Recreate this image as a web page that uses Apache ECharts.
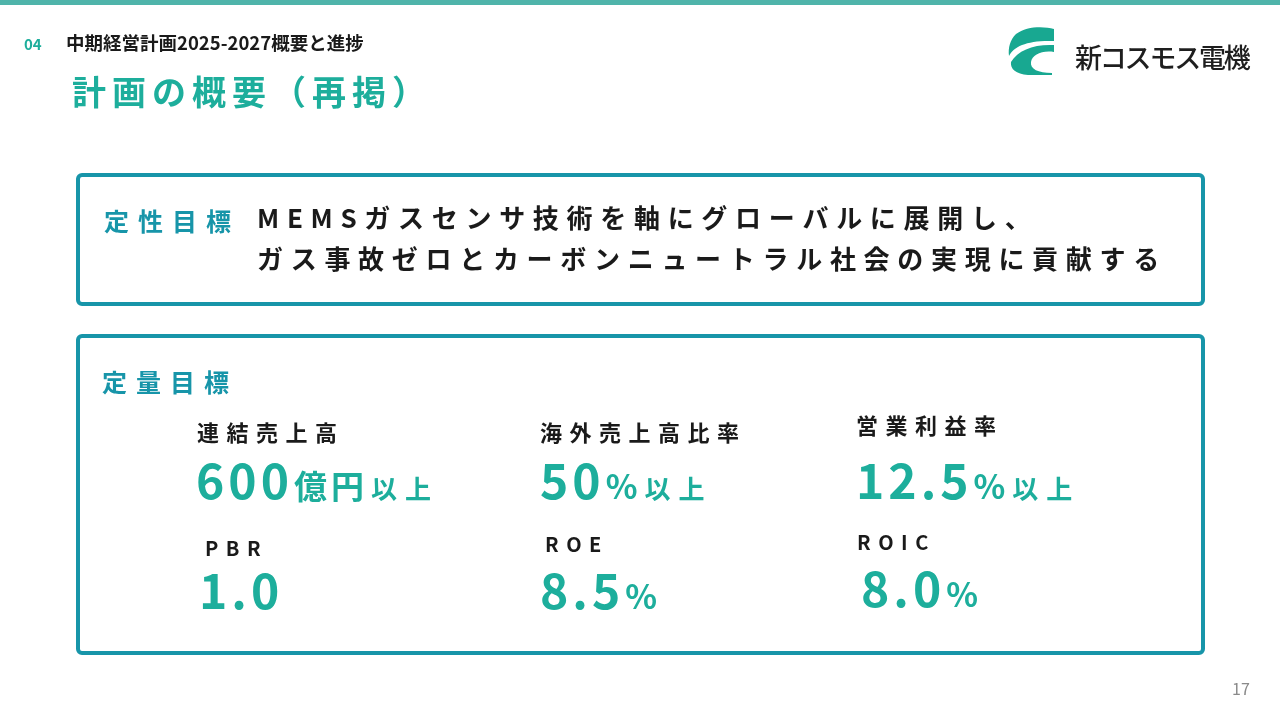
<!DOCTYPE html>
<html>
<head>
<meta charset="utf-8">
<script src="https://cdn.jsdelivr.net/npm/echarts@6/dist/echarts.min.js"></script>
<style>
  html, body { margin: 0; padding: 0; background: #fff; }
  #slide { width: 1280px; height: 720px; }
</style>
</head>
<body>
<div id="slide"></div>
<script>
// slide texts
var sectionNo = '04';
var sectionTitle = '中期経営計画2025-2027概要と進捗';
var pageTitle = '計画の概要（再掲）';
var companyName = '新コスモス電機';
var pageNo = '17';

var qualLabel = '定性目標';
var qualLines = ['MEMSガスセンサ技術を軸にグローバルに展開し、',
                 'ガス事故ゼロとカーボンニュートラル社会の実現に貢献する'];

var quantLabel = '定量目標';
var kpiNames   = ['連結売上高', '海外売上高比率', '営業利益率', 'PBR', 'ROE', 'ROIC'];
var kpiNumbers = ['600', '50', '12.5', '1.0', '8.5', '8.0'];
var kpiUnits   = ['億円', '%', '%', '', '%', '%'];
var kpiSuffix  = ['以上', '以上', '以上', '', '', ''];

var FONT = '"Noto Sans CJK JP", "Noto Sans", sans-serif';
var TEAL = '#1dae9c';
var BLUE = '#1795a9';
var INK = '#1a1a1a';

var cvs = document.createElement('canvas');
var ctx = cvs.getContext('2d');
function measure(t, size, weight) {
	ctx.font = weight + ' ' + size + 'px ' + FONT;
	return ctx.measureText(t).width;
}

// draws text one glyph at a time so letter spacing can be applied
// y is the alphabetic baseline
function spaced(els, text, x, y, size, weight, color, gap) {
	var cx = x;
	var chars = Array.from(text);
	chars.forEach(function(ch){
		els.push({
			type: 'text', x: cx, y: y - 0.38 * size,
			style: {text: ch, fontSize: size, fontWeight: weight, fontFamily: FONT,
			        fill: color, textVerticalAlign: 'middle'}
		});
		cx += measure(ch, size, weight) + gap;
	});
	return cx;
}

var logoSvg = '<svg xmlns="http://www.w3.org/2000/svg" width="48" height="50" viewBox="0 0 48 50">' +
	'<path fill="#18a891" d="M48,3 C38,0 20,0 10,8 C4,14 2,22 3,30 C8,20 22,14 48,15 Z"/>' +
	'<path fill="#18a891" d="M5,36 C12,24 28,18 48,19 L48,26 C36,24 26,29 25,36 C24,43 32,47 46,47 L46,49 L22,49 C10,48 4,43 5,36 Z"/>' +
	'</svg>';

function build() {
	var els = [];

	// top stripe
	els.push({type: 'rect', shape: {x: 0, y: 0, width: 1280, height: 5}, style: {fill: '#4fb4aa'}});

	// header
	spaced(els, sectionNo, 24, 50, 15, 'bold', TEAL, 0);
	spaced(els, sectionTitle, 66, 50, 18.5, 'bold', INK, 0);
	spaced(els, pageTitle, 72, 105, 34, 'bold', TEAL, 6);

	// logo
	els.push({
		type: 'image', x: 1006, y: 26,
		style: {image: 'data:image/svg+xml;charset=utf-8,' + encodeURIComponent(logoSvg), width: 48, height: 50}
	});
	spaced(els, companyName, 1075, 68, 27, 500, '#1e1e1e', -2.2);

	// boxes
	els.push({type: 'rect', shape: {x: 78, y: 175, width: 1125, height: 129, r: 4},
	          style: {fill: 'none', stroke: BLUE, lineWidth: 4}});
	els.push({type: 'rect', shape: {x: 78, y: 336, width: 1125, height: 317, r: 4},
	          style: {fill: 'none', stroke: BLUE, lineWidth: 4}});

	// qualitative target
	spaced(els, qualLabel, 104, 231, 25, 'bold', BLUE, 9);
	spaced(els, qualLines[0], 257, 228, 26, 'bold', INK, 7.7);
	spaced(els, qualLines[1], 257, 269, 26, 'bold', INK, 7.7);

	// quantitative targets
	spaced(els, quantLabel, 102, 392, 25, 'bold', BLUE, 9);

	var labelPos = [[197, 441], [540, 441], [856, 434], [205, 556], [545, 552], [857, 550]];
	var valuePos = [[196, 499], [540, 499], [856, 499], [199, 609], [540, 609], [861, 607]];
	for (var i = 0; i < kpiNames.length; i++) {
		var isLatin = /^[A-Z]+$/.test(kpiNames[i]);
		spaced(els, kpiNames[i], labelPos[i][0], labelPos[i][1], isLatin ? 20 : 22, 'bold', INK, isLatin ? 7.5 : 7.5);
		var cx = spaced(els, kpiNumbers[i], valuePos[i][0], valuePos[i][1], 48, 'bold', TEAL, 4);
		if (kpiUnits[i]) {
			var us = kpiUnits[i] === '%' ? 33 : 33;
			cx = spaced(els, kpiUnits[i], cx + 1, valuePos[i][1], us, 'bold', TEAL, 4);
		}
		if (kpiSuffix[i]) {
			spaced(els, kpiSuffix[i], cx + 3, valuePos[i][1], 26, 'bold', TEAL, 8);
		}
	}

	// page number
	spaced(els, pageNo, 1232, 695, 16, 'normal', '#8a8a8a', 0);
	return els;
}

var chart = echarts.init(document.getElementById('slide'));
chart.setOption({
	backgroundColor: '#fff',
	animation: false,
	graphic: {elements: build()}
});
</script>
</body>
</html>
